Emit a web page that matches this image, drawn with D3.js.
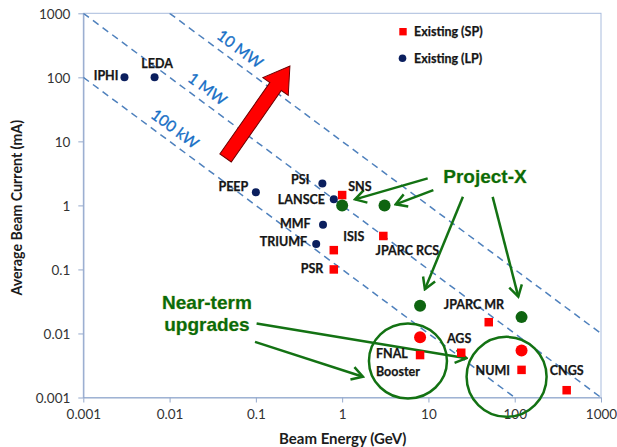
<!DOCTYPE html>
<html>
<head>
<meta charset="utf-8">
<script src="https://cdn.jsdelivr.net/npm/d3@7/dist/d3.min.js"></script>
<style>
  html, body { margin: 0; padding: 0; background: #ffffff; }
  svg { display: block; }
</style>
</head>
<body>
<svg id="chart" width="617" height="447"></svg>
<script>
// ---------------- DATA ----------------
// Existing short-pulse (SP) machines: [name, energy GeV, current mA]
const spNames    = ["SNS", "ISIS", "JPARC RCS", "PSR", "JPARC MR", "AGS", "FNAL Booster", "NUMI", "CNGS"];
const spEnergy   = [1.0, 0.8, 3.0, 0.8, 50, 24, 8, 120, 400];
const spCurrent  = [1.45, 0.2, 0.333, 0.1, 0.015, 0.005, 0.0046, 0.0027, 0.0013];

// Existing long-pulse (LP) machines
const lpNames    = ["IPHI", "LEDA", "PEEP", "PSI", "LANSCE", "MMF", "TRIUMF"];
const lpEnergy   = [0.003, 0.0067, 0.1, 0.59, 0.8, 0.6, 0.5];
const lpCurrent  = [100, 100, 1.6, 2.2, 1.25, 0.5, 0.25];

// Project-X points
const pxEnergy   = [1.0, 3.1, 8, 120];
const pxCurrent  = [1.0, 1.0, 0.027, 0.018];

// Near-term upgrades
const upEnergy   = [8, 120];
const upCurrent  = [0.0087, 0.0054];

// Constant beam-power lines (MW) and their labels
const powerMW     = [0.1, 1, 10];
const powerLabels = ["100 kW", "1 MW", "10 MW"];
const powerLabelE = [0.01155, 0.0275, 0.0655];  // energy where label sits

// Axis ticks
const xTicks = [0.001, 0.01, 0.1, 1, 10, 100, 1000];
const yTicks = [0.001, 0.01, 0.1, 1, 10, 100, 1000];
const xTickLabels = ["0.001", "0.01", "0.1", "1", "10", "100", "1000"];
const yTickLabels = ["0.001", "0.01", "0.1", "1", "10", "100", "1000"];

// Legend
const legendLabels = ["Existing (SP)", "Existing (LP)"];

// Annotations, in data units (energy GeV, current mA)
const pxArrowFrom = [[9.8, 2.64], [11.4, 1.73], [25.1, 1.36], [55.5, 1.36]];
const pxArrowTo   = [[1.41, 1.24], [4.17, 1.04], [9.1, 0.0492], [110, 0.0376]];
const ntArrowFrom = [[0.102, 0.0143], [0.0977, 0.0074]];
const ntArrowTo   = [[27.6, 0.00411], [1.74, 0.00211]];
const ringCenters = [[5.79, 0.00372], [80.5, 0.0021]];
const redArrowTail = [0.0445, 5.5];
const redArrowTip  = [0.248, 150];
const pxLabelAt    = [45.2, 2.23];
const ntLabelAt    = [0.0271, 0.0237];

// ---------------- LAYOUT / STYLE ----------------
const svg = d3.select("#chart");
const mL = 83.3, mR = 601, mT = 13.3, mB = 397.5;
const x = d3.scaleLog().domain([0.001, 1000]).range([mL, mR]);
const y = d3.scaleLog().domain([0.001, 1000]).range([mB, mT]);

const labelFont = "Lato, 'Liberation Sans', sans-serif";
const green = "#137213";
const axisCol = "#95A9CC";

// defs
const defs = svg.append("defs");
defs.append("clipPath").attr("id", "plotclip")
  .append("rect").attr("x", mL).attr("y", mT)
  .attr("width", mR - mL).attr("height", mB - mT);
defs.append("marker")
  .attr("id", "garrow")
  .attr("markerUnits", "userSpaceOnUse")
  .attr("viewBox", "-14 -10 16 20")
  .attr("markerWidth", 16).attr("markerHeight", 20)
  .attr("refX", 0).attr("refY", 0)
  .attr("orient", "auto")
  .append("path")
  .attr("d", "M-11,-6.5 L0,0 L-11,6.5")
  .attr("fill", "none").attr("stroke", green)
  .attr("stroke-width", 2.5).attr("stroke-linejoin", "miter");

// Plot frame
svg.append("rect")
  .attr("x", mL).attr("y", mT)
  .attr("width", mR - mL).attr("height", mB - mT)
  .attr("fill", "none").attr("stroke", "#A9BCDD").attr("stroke-width", 1);

// Axes
const xAxis = d3.axisBottom(x).tickValues(xTicks)
  .tickFormat((d, i) => xTickLabels[i]).tickSize(5).tickSizeOuter(0);
const yAxis = d3.axisLeft(y).tickValues(yTicks)
  .tickFormat((d, i) => yTickLabels[i]).tickSize(5).tickSizeOuter(0);

const gx = svg.append("g").attr("transform", `translate(0,${mB})`).call(xAxis);
const gy = svg.append("g").attr("transform", `translate(${mL},0)`).call(yAxis);
[gx, gy].forEach(g => {
  g.select(".domain").attr("stroke", axisCol).attr("stroke-width", 1.2);
  g.selectAll(".tick line").attr("stroke", axisCol).attr("stroke-width", 1);
  g.selectAll(".tick text")
    .attr("font-family", labelFont).attr("font-size", 13.5)
    .attr("fill", "#333");
});
gx.selectAll(".tick text").attr("dy", "1.05em").attr("y", 7.5);
gy.selectAll(".tick text").attr("x", -13).attr("dy", "0.36em");

// Axis titles
svg.append("text")
  .attr("x", 342.7).attr("y", 443.5)
  .attr("text-anchor", "middle")
  .attr("font-family", labelFont).attr("font-weight", "bold").attr("font-size", 15)
  .attr("fill", "#1c1c1c").text("Beam Energy (GeV)");
svg.append("text")
  .attr("transform", "translate(22,207.7) rotate(-90)")
  .attr("text-anchor", "middle")
  .attr("font-family", labelFont).attr("font-weight", "bold").attr("font-size", 14.2)
  .attr("fill", "#1c1c1c").text("Average Beam Current (mA)");

// Power lines
const plot = svg.append("g").attr("clip-path", "url(#plotclip)");
const lineAngle = Math.atan2(y(0.01) - y(0.1), x(10) - x(1)) * 180 / Math.PI;
powerMW.forEach((P, i) => {
  const e0 = Math.max(0.001, P / 1000), e1 = Math.min(1000, P / 0.001);
  plot.append("line")
    .attr("x1", x(e0)).attr("y1", y(P / e0))
    .attr("x2", x(e1)).attr("y2", y(P / e1))
    .attr("stroke", "#4F81BD").attr("stroke-width", 1.5)
    .attr("stroke-dasharray", "7,5");
  const E = powerLabelE[i];
  const px = x(E), py = y(P / E) - 16.5;
  svg.append("text")
    .attr("transform", `translate(${px},${py}) rotate(${lineAngle})`)
    .attr("text-anchor", "middle").attr("dy", "0.35em")
    .attr("font-family", labelFont).attr("font-size", 15.5)
    .attr("fill", "#176FC6").attr("stroke", "#176FC6").attr("stroke-width", 0.3)
    .text(powerLabels[i]);
});

// Red big arrow (power increase)
(function () {
  const x0 = x(redArrowTail[0]), y0 = y(redArrowTail[1]);
  const x1 = x(redArrowTip[0]), y1 = y(redArrowTip[1]);
  const L = Math.hypot(x1 - x0, y1 - y0);
  const ang = Math.atan2(y1 - y0, x1 - x0) * 180 / Math.PI;
  const w = 14, hw = 31, hl = 25;
  const pts = [[0, -w / 2], [L - hl, -w / 2], [L - hl, -hw / 2], [L, 0],
               [L - hl, hw / 2], [L - hl, w / 2], [0, w / 2]];
  svg.append("polygon")
    .attr("transform", `translate(${x0},${y0}) rotate(${ang})`)
    .attr("points", pts.map(p => p.join(",")).join(" "))
    .attr("fill", "#FF0000").attr("stroke", "#6B0000").attr("stroke-width", 1);
})();

// Green rings
ringCenters.forEach((c, i) => {
  svg.append("ellipse")
    .attr("cx", x(c[0])).attr("cy", y(c[1]))
    .attr("rx", i === 0 ? 39 : 40).attr("ry", i === 0 ? 37.5 : 40)
    .attr("fill", "none").attr("stroke", green).attr("stroke-width", 2.5);
});

// Green arrows
function arrows(from, to) {
  from.forEach((f, i) => {
    svg.append("line")
      .attr("x1", x(f[0])).attr("y1", y(f[1]))
      .attr("x2", x(to[i][0])).attr("y2", y(to[i][1]))
      .attr("stroke", green).attr("stroke-width", 2.5)
      .attr("marker-end", "url(#garrow)");
  });
}
arrows(pxArrowFrom, pxArrowTo);
arrows(ntArrowFrom, ntArrowTo);

// Markers
svg.append("g").selectAll("circle.lp").data(lpEnergy).join("circle")
  .attr("cx", (d) => x(d)).attr("cy", (d, i) => y(lpCurrent[i]))
  .attr("r", 4).attr("fill", "#0B1F5E");
const sq = 8.5;
svg.append("g").selectAll("rect.sp").data(spEnergy).join("rect")
  .attr("x", (d) => x(d) - sq / 2).attr("y", (d, i) => y(spCurrent[i]) - sq / 2)
  .attr("width", sq).attr("height", sq).attr("fill", "#FF0000");
svg.append("g").selectAll("circle.px").data(pxEnergy).join("circle")
  .attr("cx", (d) => x(d)).attr("cy", (d, i) => y(pxCurrent[i]))
  .attr("r", 6).attr("fill", "#0E6410");
svg.append("g").selectAll("circle.up").data(upEnergy).join("circle")
  .attr("cx", (d) => x(d)).attr("cy", (d, i) => y(upCurrent[i]))
  .attr("r", 6).attr("fill", "#FF0000");

// Point labels: [dx, dy, anchor]
const lpLabelPos = [[-6, 2.2, "end"], [2.5, -9.3, "middle"], [-7.6, -1.3, "end"],
                    [-13, 0.5, "end"], [-8.8, 5.3, "end"], [-12.3, 3.3, "end"], [-9, 2, "end"]];
const spLabelPos = [[6, -3.6, "start"], [9.5, -9.2, "start"], [-7.7, 19, "start"],
                    [-10.5, 3.9, "end"], [-14.8, -13.2, "middle"], [-2.1, -9.7, "middle"],
                    [-44.1, 2.9, "start"], [-11.6, 5.1, "end"], [0, -15.2, "middle"]];
function labelText(sel) {
  sel.attr("font-family", labelFont).attr("font-weight", "bold")
     .attr("font-size", 12.5).attr("fill", "#161616")
     .attr("stroke", "#161616").attr("stroke-width", 0.25);
}
lpNames.forEach((n, i) => {
  const p = lpLabelPos[i];
  svg.append("text").call(labelText)
    .attr("x", x(lpEnergy[i]) + p[0]).attr("y", y(lpCurrent[i]) + p[1])
    .attr("text-anchor", p[2]).text(n);
});
spNames.forEach((n, i) => {
  const p = spLabelPos[i];
  const t = svg.append("text").call(labelText)
    .attr("x", x(spEnergy[i]) + p[0]).attr("y", y(spCurrent[i]) + p[1])
    .attr("text-anchor", p[2]);
  const parts = n === "FNAL Booster" ? ["FNAL", "Booster"] : [n];
  parts.forEach((s, k) => {
    t.append("tspan").attr("x", x(spEnergy[i]) + p[0])
      .attr("dy", k === 0 ? 0 : 18.5).text(s);
  });
});

// Group annotation labels
function greenLabel(sel) {
  sel.attr("font-family", "'Liberation Sans', Arial, sans-serif")
     .attr("font-weight", "bold").attr("font-size", 19)
     .attr("fill", "#0A6B0A").attr("stroke", "#B9C46A").attr("stroke-width", 0.5)
     .attr("paint-order", "stroke").attr("text-anchor", "middle");
}
svg.append("text").call(greenLabel)
  .attr("x", x(pxLabelAt[0])).attr("y", y(pxLabelAt[1])).text("Project-X");
const nt = svg.append("text").call(greenLabel)
  .attr("x", x(ntLabelAt[0])).attr("y", y(ntLabelAt[1]));
nt.append("tspan").attr("x", x(ntLabelAt[0])).attr("dy", 0).text("Near-term");
nt.append("tspan").attr("x", x(ntLabelAt[0])).attr("dy", 21.2).text("upgrades");

// Legend
const lg = svg.append("g");
lg.append("rect").attr("x", 403 - 3.7).attr("y", 31.7 - 3.7)
  .attr("width", 7.4).attr("height", 7.4).attr("fill", "#FF0000");
lg.append("circle").attr("cx", 402.5).attr("cy", 58.3).attr("r", 3.8).attr("fill", "#0B1F5E");
legendLabels.forEach((t, i) => {
  lg.append("text").call(labelText)
    .attr("x", 414).attr("y", 36.3 + i * 26.2).text(t);
});
</script>
</body>
</html>
